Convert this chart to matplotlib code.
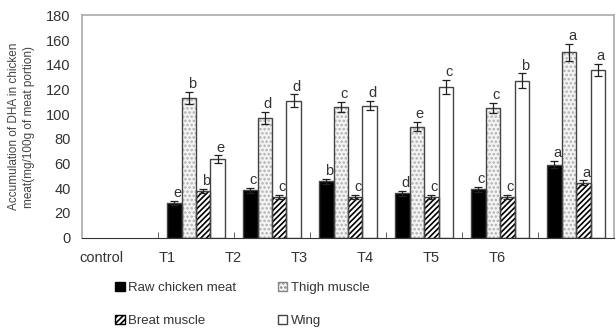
import numpy as np
import matplotlib.pyplot as plt
from matplotlib.patches import Patch

#####################################
# Data
#####################################
groups = ['control', 'T1', 'T2', 'T3', 'T4', 'T5', 'T6']

raw = [0, 28, 38.5, 45.5, 36, 39, 59]
thigh = [0, 113, 97, 106, 90, 105, 150]
breat = [0, 38, 33, 33, 33, 33, 44.5]
wing = [0, 63.5, 111, 107, 122, 127, 136]

raw_err = [0, 2, 2, 2, 2, 2, 3]
thigh_err = [0, 5, 5, 4, 4, 4, 7]
breat_err = [0, 1.5, 1.5, 1.5, 1.5, 1.5, 2]
wing_err = [0, 3, 5, 4, 6, 6, 5]

raw_let = ['', 'e', 'c', 'b', 'd', 'c', 'a']
thigh_let = ['', 'b', 'd', 'c', 'e', 'c', 'a']
breat_let = ['', 'b', 'c', 'c', 'c', 'c', 'a']
wing_let = ['', 'e', 'd', 'd', 'c', 'b', 'a']

plt.rcParams['font.family'] = ['Liberation Sans', 'DejaVu Sans']
plt.rcParams['hatch.linewidth'] = 1.2
txt = '#333333'

fig = plt.figure(figsize=(6.16, 3.29), dpi=100)
ax = fig.add_axes([0.133, 0.278, 0.864, 0.675])

x = np.arange(len(groups))
w = 0.19
offs = [-1.5 * w, -0.5 * w, 0.5 * w, 1.5 * w]

series = [
    (raw, raw_err, raw_let, dict(facecolor='black', edgecolor='black', hatch=None)),
    (thigh, thigh_err, thigh_let, dict(facecolor='#f4f4f4', edgecolor='#b0b0b0', hatch='....')),
    (breat, breat_err, breat_let, dict(facecolor='white', edgecolor='black', hatch='//////')),
    (wing, wing_err, wing_let, dict(facecolor='white', edgecolor='#555555', hatch=None)),
]

for (vals, errs, lets, st), o in zip(series, offs):
    vals = np.array(vals, dtype=float)
    errs = np.array(errs, dtype=float)
    m = vals > 0
    ax.bar(x[m] + o, vals[m], w, facecolor=st['facecolor'], edgecolor=st['edgecolor'],
           hatch=st['hatch'], linewidth=0, zorder=2)
    ax.bar(x[m] + o, vals[m], w, facecolor='none', edgecolor='#444444', linewidth=1.0, zorder=3)
    ax.errorbar(x[m] + o, vals[m], yerr=errs[m], fmt='none', ecolor='#222222',
                elinewidth=0.9, capsize=3, capthick=0.9, zorder=4)
    for xi, v, e, l in zip(x[m] + o, vals[m], errs[m], np.array(lets)[m]):
        ax.text(xi + 0.04, v + e + 0.5, l, ha='center', va='bottom', fontsize=10.5, color=txt)

ax.set_xlim(-0.5, 6.5)
ax.set_ylim(0, 180)
ax.set_yticks(range(0, 181, 20))
ax.tick_params(axis='y', length=0, labelsize=10.5, labelcolor=txt, pad=8)

# group separators on the x axis, labels drawn where the original has them
ax.set_xticks(x[:-1] + 0.5, minor=True)
ax.tick_params(axis='x', which='minor', length=4, direction='in', color='#444444')
ax.set_xticks(-0.24 + 0.867 * x)
ax.set_xticklabels(groups)
ax.tick_params(axis='x', which='major', length=0, labelsize=10.5, labelcolor=txt, pad=10)

ax.spines['bottom'].set_color('#333333')
for s in ['top', 'right', 'left']:
    ax.spines[s].set_color('#aaaaaa')
    ax.spines[s].set_linewidth(1.2)

ax.set_ylabel('Accumulation of DHA in chicken\nmeat(mg/100g of meat portion)',
              fontsize=8.5, color='#444444', labelpad=8, linespacing=1.3)

handles = [
    Patch(facecolor='black', edgecolor='black', label='Raw chicken meat'),
    Patch(facecolor='white', edgecolor='black', hatch='//////', label='Breat muscle'),
    Patch(facecolor='#f4f4f4', edgecolor='#888888', hatch='....', label='Thigh muscle'),
    Patch(facecolor='white', edgecolor='#444444', label='Wing'),
]
fig.legend(handles=handles, ncol=2, loc='upper left', bbox_to_anchor=(0.168, 0.18),
           frameon=False, fontsize=9.5, handlelength=0.7, handleheight=0.7,
           handletextpad=0.25, columnspacing=3.2, labelspacing=1.6, labelcolor=txt)

fig.savefig('out.png', dpi=100)
